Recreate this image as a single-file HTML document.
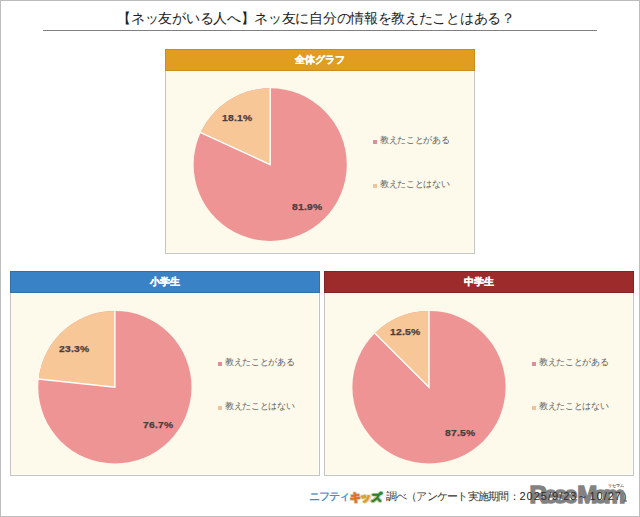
<!DOCTYPE html>
<html><head><meta charset="utf-8">
<style>
html,body{margin:0;padding:0;}
body{width:640px;height:517px;position:relative;overflow:hidden;background:#fff;font-family:"Liberation Sans",sans-serif;}
.frame{position:absolute;left:0;top:0;width:638px;height:515px;border:1px solid #bdbdbd;}
.title{position:absolute;left:-4px;width:640px;top:8.5px;text-align:center;font-size:14px;letter-spacing:-0.3px;color:#222;line-height:18px;white-space:nowrap;}
.rule{position:absolute;left:43px;width:554px;top:30px;height:1px;background:#808080;}
.panel{position:absolute;width:310px;height:205px;}
.box{position:absolute;left:0;top:0;width:308px;height:203px;background:#fdfaeb;border:1px solid #c4c4c4;box-shadow:inset 0 -1px 0 #fefdf6,inset -1px 0 0 #fefdf6;}
.hdr{position:absolute;left:0;top:0;width:310px;height:21.5px;box-sizing:border-box;border:1px solid;color:#fff;font-weight:bold;font-size:10px;-webkit-text-stroke:0.3px #fff;line-height:19px;text-align:center;}
.panel svg{position:absolute;left:0;top:0;}
.lg{position:absolute;font-size:9px;letter-spacing:-0.35px;color:#606060;line-height:10px;white-space:nowrap;}
.sq{position:absolute;width:4px;height:4px;}
.pct{position:absolute;font-size:9.2px;letter-spacing:0.2px;transform:scaleX(1.12);transform-origin:0 0;-webkit-text-stroke:0.25px #4a3d3d;font-weight:bold;color:#4a3d3d;line-height:10px;white-space:nowrap;}
.foot{position:absolute;top:488px;left:385.5px;font-size:11px;line-height:16px;color:#333;white-space:nowrap;letter-spacing:-0.75px;}
.foot2{position:absolute;top:488px;left:519.5px;font-size:11px;line-height:16px;color:#222;white-space:nowrap;letter-spacing:1px;}
.nif{position:absolute;top:488px;left:309px;font-size:11px;line-height:16px;color:#3f8cc4;-webkit-text-stroke:0.35px #3f8cc4;white-space:nowrap;letter-spacing:-1px;}
.kids{position:absolute;top:488.5px;left:350px;font-size:11px;line-height:16px;font-weight:bold;white-space:nowrap;letter-spacing:-0.6px;}
.kids span{-webkit-text-stroke:0.6px currentColor;text-shadow:1.4px 0 0 var(--h),-1.4px 0 0 var(--h),0 1.4px 0 var(--h),0 -1.4px 0 var(--h),1px 1px 0 var(--h),-1px -1px 0 var(--h),1px -1px 0 var(--h),-1px 1px 0 var(--h);}
.wm{position:absolute;top:479.5px;left:529.5px;width:110px;height:30px;opacity:0.62;}
.wm span{position:absolute;top:0;font-size:24px;line-height:30px;font-weight:bold;color:#373737;-webkit-text-stroke:1.5px #373737;letter-spacing:-3.2px;white-space:nowrap;}
.wm i{position:absolute;left:95.3px;top:20px;width:2.6px;height:2.6px;border-radius:50%;background:#373737;}
.wmr{position:absolute;top:483px;left:607.5px;font-size:4px;line-height:6px;color:#666;-webkit-text-stroke:0.15px #666;white-space:nowrap;letter-spacing:0px;}
</style></head><body>
<div class="frame"></div>
<div class="title">【ネッ友がいる人へ】ネッ友に自分の情報を教えたことはある？</div>
<div class="rule"></div>

<div class="panel" style="left:165px;top:49px;">
  <div class="box"></div>
  <div class="hdr" style="background:#e19d1f;border-color:#c98d1c;">全体グラフ</div>
  <svg width="310" height="205" viewBox="0 0 310 205">
    <ellipse cx="105.2" cy="115.6" rx="76.6" ry="76.3" fill="#ef9494"/>
    <path d="M105.2,115.6 L105.2,39.3 A76.6,76.3 0 0 0 35.69,83.55 Z" fill="#f7c797"/>
    <path d="M105.2,38.699999999999996 L105.2,115.6 L35.14,83.30" fill="none" stroke="#fff" stroke-width="1.4" stroke-linejoin="miter"/>
  </svg>
  <div class="pct" style="left:56.9px;top:64px;">18.1%</div>
  <div class="pct" style="left:127px;top:153px;">81.9%</div>
  <div class="sq" style="left:208px;top:90.8px;background:#dc8c9a;"></div>
  <div class="lg" style="left:215px;top:86px;">教えたことがある</div>
  <div class="sq" style="left:208px;top:135px;background:#ecc49c;"></div>
  <div class="lg" style="left:215px;top:130px;">教えたことはない</div>
</div>

<div class="panel" style="left:10px;top:271px;">
  <div class="box"></div>
  <div class="hdr" style="background:#3a82c6;border-color:#336fa9;">小学生</div>
  <svg width="310" height="205" viewBox="0 0 310 205">
    <ellipse cx="104.9" cy="116.2" rx="76.6" ry="76.3" fill="#ef9494"/>
    <path d="M104.9,116.2 L104.9,39.900000000000006 A76.6,76.3 0 0 0 28.74,108.07 Z" fill="#f7c797"/>
    <path d="M104.9,39.300000000000004 L104.9,116.2 L28.14,108.00" fill="none" stroke="#fff" stroke-width="1.4" stroke-linejoin="miter"/>
  </svg>
  <div class="pct" style="left:48.8px;top:73px;">23.3%</div>
  <div class="pct" style="left:133.1px;top:149px;">76.7%</div>
  <div class="sq" style="left:208px;top:90.8px;background:#dc8c9a;"></div>
  <div class="lg" style="left:215px;top:86px;">教えたことがある</div>
  <div class="sq" style="left:208px;top:135px;background:#ecc49c;"></div>
  <div class="lg" style="left:215px;top:130px;">教えたことはない</div>
</div>

<div class="panel" style="left:324px;top:271px;">
  <div class="box"></div>
  <div class="hdr" style="background:#9e2b2b;border-color:#852424;">中学生</div>
  <svg width="310" height="205" viewBox="0 0 310 205">
    <ellipse cx="105" cy="116.2" rx="76.6" ry="76.3" fill="#ef9494"/>
    <path d="M105,116.2 L105,39.900000000000006 A76.6,76.3 0 0 0 50.84,62.25 Z" fill="#f7c797"/>
    <path d="M105,39.300000000000004 L105,116.2 L50.41,61.82" fill="none" stroke="#fff" stroke-width="1.4" stroke-linejoin="miter"/>
  </svg>
  <div class="pct" style="left:66px;top:56px;">12.5%</div>
  <div class="pct" style="left:120.5px;top:157px;">87.5%</div>
  <div class="sq" style="left:208px;top:90.8px;background:#dc8c9a;"></div>
  <div class="lg" style="left:215px;top:86px;">教えたことがある</div>
  <div class="sq" style="left:208px;top:135px;background:#ecc49c;"></div>
  <div class="lg" style="left:215px;top:130px;">教えたことはない</div>
</div>
<div class="nif">ニフティ</div>
<div class="kids"><span style="color:#e2701f;--h:#d2bcb2">キ</span><span style="color:#dc9a2a;--h:#d8caa6">ッ</span><span style="color:#2f7f33;--h:#acd0ae">ズ</span></div>
<div class="foot">調べ（アンケート実施期間：</div>
<div class="foot2">2025/9/23～10/27）</div>
<div class="wm"><span style="left:0">Rese</span><span style="left:47.8px;letter-spacing:-4px">Mom</span><i></i></div>
<div class="wmr">リセマム</div>
</body></html>
